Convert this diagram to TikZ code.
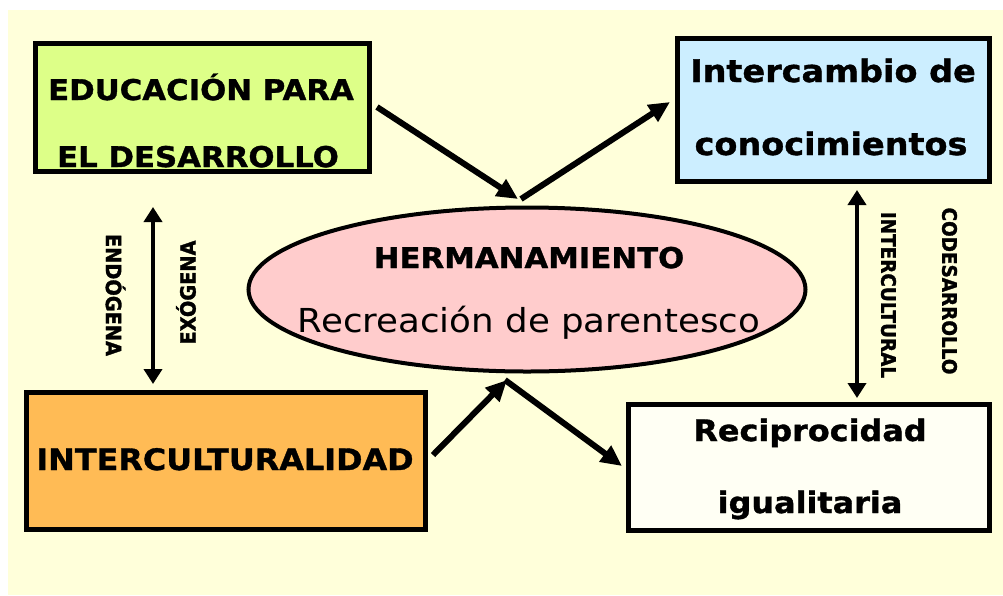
\documentclass[tikz,border=0pt]{standalone}
\usepackage{fontspec}
\usetikzlibrary{arrows.meta,shapes.geometric}
\newfontfamily\cfont[FakeStretch=1.08,BoldFeatures={FakeBold=1.2}]{DejaVu Sans}
\newfontfamily\vfont[FakeStretch=0.92,BoldFeatures={FakeBold=1.5}]{DejaVu Sans}
\definecolor{bgyel}{HTML}{FFFFDA}
\definecolor{cgreen}{HTML}{DDFF88}
\definecolor{cblue}{HTML}{CCEEFF}
\definecolor{corange}{HTML}{FFBB55}
\definecolor{civory}{HTML}{FFFFF4}
\definecolor{cpink}{HTML}{FFCCCC}
\begin{document}
\begin{tikzpicture}[x=1pt,y=-1pt,
  box/.style={draw=black,line width=5pt,rectangle,inner sep=0pt},
  btxt/.style={font=\cfont\bfseries\fontsize{#1}{#1}\selectfont,anchor=base,inner sep=0pt},
  rtxt/.style={font=\cfont\fontsize{#1}{#1}\selectfont,anchor=base,inner sep=0pt},
  vtxt/.style={font=\vfont\bfseries\fontsize{#1}{#1}\selectfont,inner sep=0pt},
  bigarrow/.style={line width=6pt,-{Triangle[length=21pt,width=19pt]}},
  dblarrow/.style={line width=4.5pt,{Triangle[length=15pt,width=18pt]}-{Triangle[length=15pt,width=18pt]}}
]
\useasboundingbox (0,0) rectangle (1003,595);
\fill[white] (0,0) rectangle (1003,595);
\fill[bgyel] (8,10) rectangle (1003,595);

% boxes
\node[box,fill=cgreen,minimum width=334pt,minimum height=128pt] (edu) at (202,107.5) {};
\node[box,fill=cblue,minimum width=312pt,minimum height=143pt] (inter) at (833.5,110) {};
\node[box,fill=corange,minimum width=399pt,minimum height=137pt] (intc) at (226,461) {};
\node[box,fill=civory,minimum width=361pt,minimum height=126pt] (recip) at (809,467.5) {};
\node[draw=black,line width=4pt,fill=cpink,ellipse,minimum width=557pt,minimum height=164pt,inner sep=0pt] (herm) at (527,289.5) {};

% texts
\node[btxt=28.5] (edu1) at (201,100) {EDUCACIÓN PARA};
\node[btxt=28.5] (edu2) at (198,167) {EL DESARROLLO};
\node[btxt=31] (int1) at (833,82) {Intercambio de};
\node[btxt=31] (int2) at (831,155) {conocimientos};
\node[btxt=29.5] (intc1) at (225,470) {INTERCULTURALIDAD};
\node[btxt=29.5] (rec1) at (810,441) {Reciprocidad};
\node[btxt=29.5] (rec2) at (810,513) {igualitaria};
\node[btxt=28.5] (herm1) at (529,268) {HERMANAMIENTO};
\node[rtxt=33] (herm2) at (529,332) {Recreación de parentesco};

% vertical labels
\node[vtxt=21,rotate=-90] (endo) at (115.5,295) {ENDÓGENA};
\node[vtxt=21,rotate=90] (exo) at (186,292.5) {EXÓGENA};
\node[vtxt=20,rotate=-90] (intcu) at (888.5,295) {INTERCULTURAL};
\node[vtxt=20,rotate=-90] (codes) at (949.5,291) {CODESARROLLO};

% connector end points
\coordinate (a1s) at (377,107);
\coordinate (a1e) at (518,199);
\coordinate (a2s) at (521,199);
\coordinate (a2e) at (670,102);
\coordinate (a3s) at (433,455);
\coordinate (a3e) at (507,380);
\coordinate (a4s) at (505,380);
\coordinate (a4e) at (622,466);
\coordinate (l1) at (153,207);
\coordinate (l2) at (153,384);
\coordinate (r1) at (857,190);
\coordinate (r2) at (857,398);

\draw[bigarrow] (a1s) -- (a1e);
\draw[bigarrow] (a2s) -- (a2e);
\draw[bigarrow] (a3s) -- (a3e);
\draw[bigarrow] (a4s) -- (a4e);
\draw[dblarrow] (l1) -- (l2);
\draw[dblarrow] (r1) -- (r2);
\end{tikzpicture}
\end{document}
